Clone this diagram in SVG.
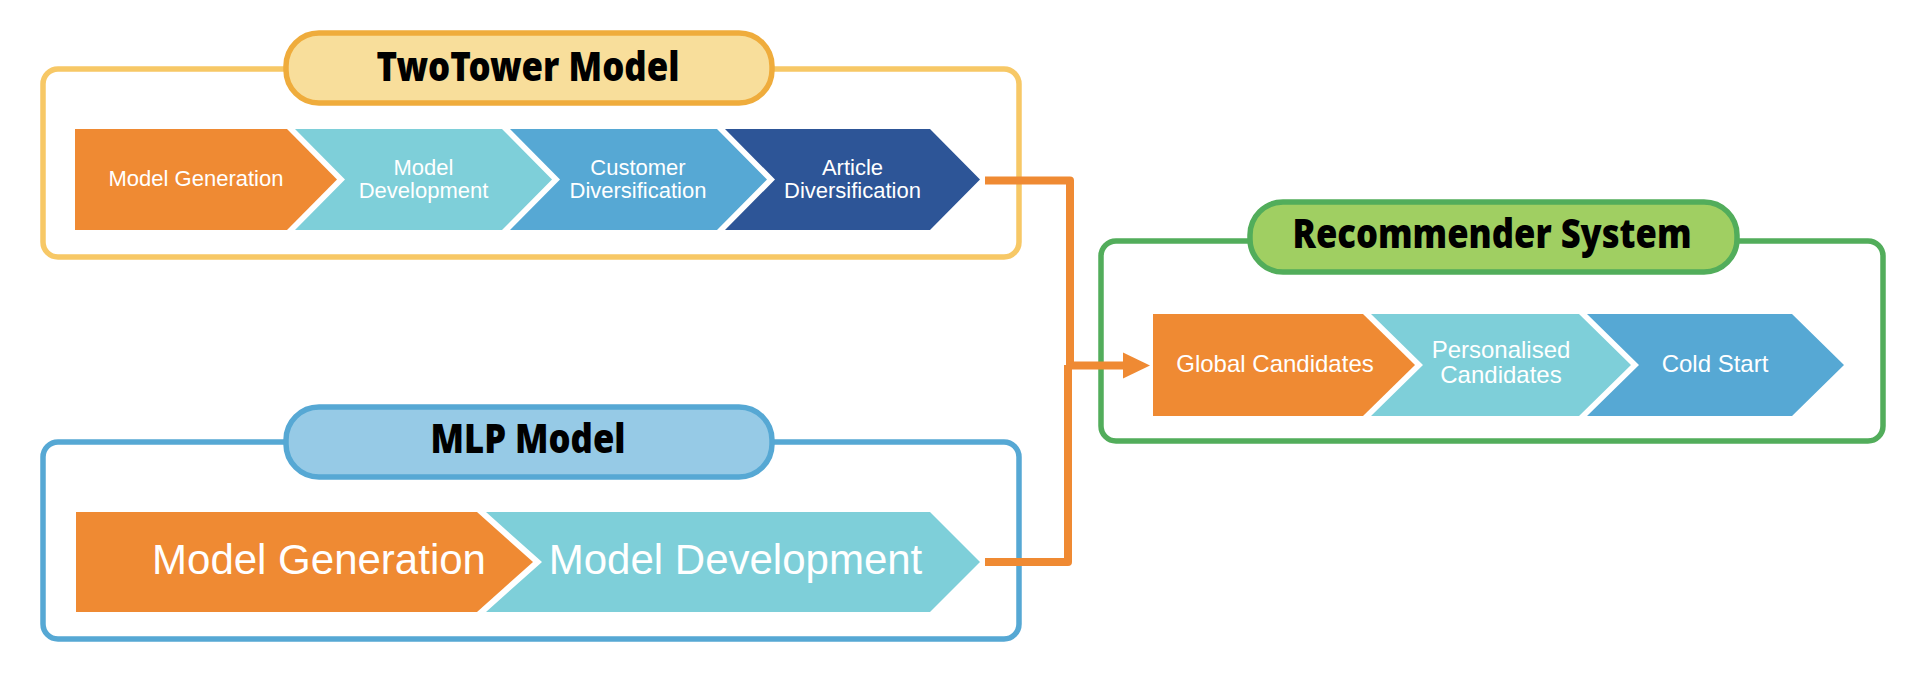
<svg xmlns="http://www.w3.org/2000/svg" width="1922" height="700" viewBox="0 0 1922 700">
<style>
.frame{fill:none;stroke-width:5.5}
.pill{stroke-width:5.5}
.title{font-family:"Noto Sans","Liberation Sans",sans-serif;font-weight:900;font-size:40px;fill:#000;text-anchor:middle}
.lbl{font-family:"Liberation Sans",Arial,sans-serif;fill:#fff;text-anchor:middle}
.s22{font-size:22px}
.s24{font-size:24px}
.s42{font-size:42px}
.orange{fill:#EF8A33}
.teal{fill:#7ECFD9}
.blue{fill:#56A8D4}
.dark{fill:#2D5597}
.conn{fill:none;stroke:#EF8A33;stroke-width:8;stroke-linejoin:round}
</style>
<rect width="1922" height="700" fill="#fff"/>

<g id="twotower">
<rect class="frame" x="43" y="69" width="976" height="188" rx="15" stroke="#F7C866"/>
<rect class="pill" x="286" y="33" width="486" height="70" rx="33" fill="#F8DE9B" stroke="#EFAC3C"/>
<text class="title" x="528" y="81" textLength="303" lengthAdjust="spacingAndGlyphs">TwoTower Model</text>
<polygon class="orange" points="75,129 287,129 337,179.5 287,230 75,230"/>
<polygon class="teal" points="295,129 502,129 552,179.5 502,230 295,230 345,179.5"/>
<polygon class="blue" points="510,129 717,129 767,179.5 717,230 510,230 560,179.5"/>
<polygon class="dark" points="725,129 930,129 980,179.5 930,230 725,230 775,179.5"/>
<text class="lbl s22" x="196" y="186">Model Generation</text>
<text class="lbl s22" x="423.5" y="175">Model</text>
<text class="lbl s22" x="423.5" y="198">Development</text>
<text class="lbl s22" x="638" y="175">Customer</text>
<text class="lbl s22" x="638" y="198">Diversification</text>
<text class="lbl s22" x="852.5" y="175">Article</text>
<text class="lbl s22" x="852.5" y="198">Diversification</text>
</g>

<g id="mlp">
<rect class="frame" x="43" y="442" width="976" height="197" rx="15" stroke="#56A8D4"/>
<rect class="pill" x="286" y="407" width="486" height="70" rx="33" fill="#96CAE6" stroke="#56A8D4"/>
<text class="title" x="528" y="453" textLength="195" lengthAdjust="spacingAndGlyphs">MLP Model</text>
<polygon class="orange" points="76,512 477,512 533,562 477,612 76,612"/>
<polygon class="teal" points="486,512 930,512 980,562 930,612 486,612 542,562"/>
<text class="lbl s42" x="319" y="574">Model Generation</text>
<text class="lbl s42" x="735.5" y="574">Model Development</text>
</g>

<g id="recommender">
<rect class="frame" x="1101" y="241" width="782" height="200" rx="15" stroke="#52AD5B"/>
<rect class="pill" x="1250" y="202" width="487" height="70" rx="33" fill="#A0CF62" stroke="#52AD5B"/>
<text class="title" x="1492" y="248" textLength="399" lengthAdjust="spacingAndGlyphs">Recommender System</text>
<polygon class="orange" points="1153,314 1363,314 1415,365 1363,416 1153,416"/>
<polygon class="teal" points="1371,314 1579,314 1631,365 1579,416 1371,416 1423,365"/>
<polygon class="blue" points="1587,314 1792,314 1844,365 1792,416 1587,416 1639,365"/>
<text class="lbl s24" x="1275" y="372">Global Candidates</text>
<text class="lbl s24" x="1501" y="358">Personalised</text>
<text class="lbl s24" x="1501" y="383">Candidates</text>
<text class="lbl s24" x="1715" y="372">Cold Start</text>
</g>

<g id="connectors">
<path class="conn" d="M985,180.5 H1070 V365"/>
<path class="conn" d="M985,562 H1068 V365"/>
<path class="conn" d="M1068,365.5 H1126"/>
<polygon class="orange" points="1123,352.5 1150,365.5 1123,378.5"/>
</g>
</svg>
